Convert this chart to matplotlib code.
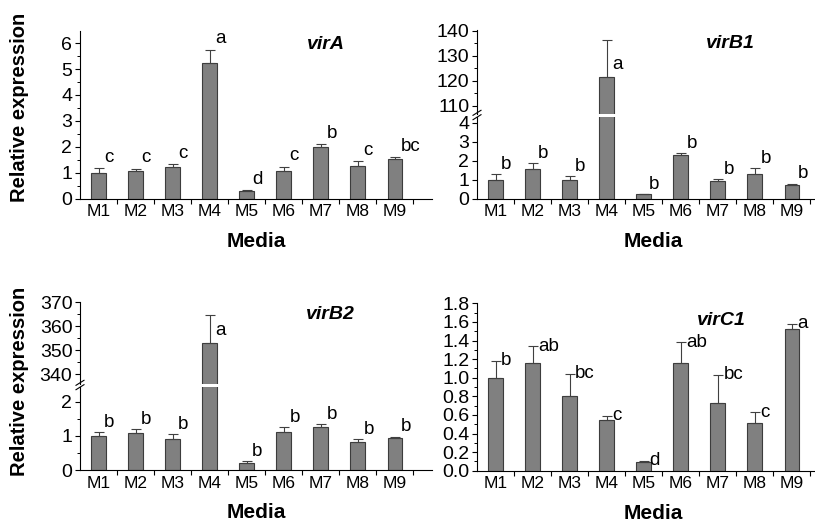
import matplotlib
matplotlib.use('Agg')
import matplotlib.pyplot as plt
from matplotlib.lines import Line2D
from matplotlib.ticker import MultipleLocator, FixedLocator, FormatStrFormatter
import numpy as np

plt.rcParams['font.family'] = ['Liberation Sans', 'DejaVu Sans']

# data
media = ['M1', 'M2', 'M3', 'M4', 'M5', 'M6', 'M7', 'M8', 'M9']

virA_mean = [1.00, 1.07, 1.21, 5.25, 0.30, 1.08, 1.98, 1.26, 1.54]
virA_sd = [0.17, 0.08, 0.12, 0.50, 0.03, 0.15, 0.12, 0.18, 0.05]
virA_sig = ['c', 'c', 'c', 'a', 'd', 'c', 'b', 'c', 'bc']

virB1_mean = [1.00, 1.57, 1.00, 121.6, 0.23, 2.29, 0.94, 1.30, 0.70]
virB1_sd = [0.30, 0.30, 0.17, 14.7, 0.02, 0.12, 0.07, 0.30, 0.09]
virB1_sig = ['b', 'b', 'b', 'a', 'b', 'b', 'b', 'b', 'b']

virB2_mean = [1.00, 1.10, 0.91, 353.1, 0.22, 1.11, 1.25, 0.82, 0.93]
virB2_sd = [0.11, 0.11, 0.14, 11.5, 0.04, 0.14, 0.10, 0.08, 0.05]
virB2_sig = ['b', 'b', 'b', 'a', 'b', 'b', 'b', 'b', 'b']

virC1_mean = [1.00, 1.16, 0.80, 0.54, 0.093, 1.16, 0.73, 0.51, 1.52]
virC1_sd = [0.18, 0.18, 0.24, 0.05, 0.015, 0.22, 0.30, 0.12, 0.06]
virC1_sig = ['b', 'ab', 'bc', 'c', 'd', 'ab', 'bc', 'c', 'a']

W, H = 815, 522
fig = plt.figure(figsize=(W / 100, H / 100), dpi=100)

BAR = '#808080'
EDGE = '#3c3c3c'
ERR = '#404040'
x = np.arange(1, 10)


def rect(l, t, r, b):
    # pixel box -> figure fraction
    return [l / W, 1 - b / H, (r - l) / W, (b - t) / H]


def style(ax, bottom=True):
    ax.spines['top'].set_visible(False)
    ax.spines['right'].set_visible(False)
    for s in ax.spines.values():
        s.set_linewidth(0.8)
    ax.tick_params(axis='y', which='major', direction='out', length=3.5, width=0.8,
                   labelsize=14, pad=2)
    ax.tick_params(axis='y', which='minor', direction='out', length=2, width=0.7)
    ax.set_xlim(0.5, 10.0)
    if bottom:
        ax.set_xticks(x)
        ax.set_xticklabels(media)
        ax.xaxis.set_minor_locator(FixedLocator(np.arange(1.5, 10, 1)))
        ax.tick_params(axis='x', which='major', length=0, labelsize=12.5, pad=4)
        ax.tick_params(axis='x', which='minor', direction='out', length=3.5, width=0.8)
        ax.set_xlabel('Media', fontsize=15, fontweight='bold', labelpad=9)
    else:
        ax.spines['bottom'].set_visible(False)
        ax.set_xticks([])
        ax.xaxis.set_minor_locator(FixedLocator([]))


def bars(ax, mean, sd, with_err=True):
    ax.bar(x, mean, width=0.4, color=BAR, edgecolor=EDGE, linewidth=0.8, zorder=2)
    if with_err:
        ax.errorbar(x, mean, yerr=[np.zeros(len(sd)), sd], fmt='none', ecolor=ERR,
                    elinewidth=0.8, capsize=3.5, capthick=0.8, zorder=3)


def letters(ax, mean, sd, sig, dy, idx=None, at_mean=False):
    for i in range(len(sig)):
        if idx is not None and i not in idx:
            continue
        y = mean[i] if at_mean else mean[i] + sd[i]
        ax.annotate(sig[i], xy=(x[i] + 0.15, y), xytext=(0, dy),
                    textcoords='offset points', ha='left', va='center', fontsize=13.5)


def break_marks(ax_lo, ax_hi):
    b_lo = ax_lo.get_position()
    b_hi = ax_hi.get_position()
    x0 = b_lo.x0
    ym = (b_lo.y1 + b_hi.y0) / 2
    dx, dy = 4 / W, 2.5 / H
    for off in (-2.2 / H, 2.2 / H):
        fig.add_artist(Line2D([x0 - dx, x0 + dx], [ym + off - dy, ym + off + dy],
                              transform=fig.transFigure, color='black', lw=0.8))


def gene_title(ax, name, tx, ty):
    ax.text(tx, ty, name, transform=ax.transAxes, fontsize=14, fontweight='bold',
            fontstyle='italic', ha='center', va='center')


# virA
ax = fig.add_axes(rect(80, 30.7, 432, 198.7))
bars(ax, virA_mean, virA_sd)
ax.set_ylim(0, 6.48)
ax.yaxis.set_major_locator(MultipleLocator(1))
ax.yaxis.set_minor_locator(MultipleLocator(0.5))
style(ax)
letters(ax, virA_mean, virA_sd, virA_sig, 8)
gene_title(ax, 'virA', 0.70, 0.92)

# virB1 (broken axis)
lo = fig.add_axes(rect(477, 116.5, 829, 198.5))
hi = fig.add_axes(rect(477, 30, 829, 113.5))
bars(lo, virB1_mean, virB1_sd)
bars(hi, virB1_mean, virB1_sd)
lo.set_ylim(0, 4.34)
hi.set_ylim(107, 140.3)
lo.yaxis.set_major_locator(MultipleLocator(1))
lo.yaxis.set_minor_locator(FixedLocator([]))
hi.yaxis.set_major_locator(FixedLocator([110, 120, 130, 140]))
hi.yaxis.set_minor_locator(FixedLocator([115, 125, 135]))
style(lo)
style(hi, bottom=False)
letters(lo, virB1_mean, virB1_sd, virB1_sig, 7, idx=[0, 1, 2, 4, 5, 6, 7, 8])
letters(hi, virB1_mean, virB1_sd, virB1_sig, 9, idx=[3], at_mean=True)
gene_title(hi, 'virB1', 0.72, 0.84)
break_marks(lo, hi)

# virB2 (broken axis)
lo = fig.add_axes(rect(80, 386.5, 432, 470.3))
hi = fig.add_axes(rect(80, 301.7, 432, 383.5))
bars(lo, virB2_mean, virB2_sd)
bars(hi, virB2_mean, virB2_sd)
lo.set_ylim(0, 2.44)
hi.set_ylim(336.2, 370.3)
lo.yaxis.set_major_locator(MultipleLocator(1))
lo.yaxis.set_minor_locator(MultipleLocator(0.5))
hi.yaxis.set_major_locator(FixedLocator([340, 350, 360, 370]))
hi.yaxis.set_minor_locator(FixedLocator([345, 355, 365]))
style(lo)
style(hi, bottom=False)
letters(lo, virB2_mean, virB2_sd, virB2_sig, 7, idx=[0, 1, 2, 4, 5, 6, 7, 8])
letters(hi, virB2_mean, virB2_sd, virB2_sig, 9, idx=[3], at_mean=True)
gene_title(hi, 'virB2', 0.71, 0.84)
break_marks(lo, hi)

# virC1
ax = fig.add_axes(rect(477, 303.3, 829, 470.7))
bars(ax, virC1_mean, virC1_sd)
ax.set_ylim(0, 1.8)
ax.yaxis.set_major_locator(MultipleLocator(0.2))
ax.yaxis.set_minor_locator(MultipleLocator(0.1))
ax.yaxis.set_major_formatter(FormatStrFormatter('%.1f'))
style(ax)
letters(ax, virC1_mean, virC1_sd, virC1_sig, 0)
gene_title(ax, 'virC1', 0.695, 0.90)

# shared y labels
fig.text(20 / W, 1 - 107 / H, 'Relative expression', rotation=90, ha='center',
         va='center', fontsize=14.5, fontweight='bold')
fig.text(20 / W, 1 - 381 / H, 'Relative expression', rotation=90, ha='center',
         va='center', fontsize=14.5, fontweight='bold')

fig.savefig('out.png', dpi=100)
